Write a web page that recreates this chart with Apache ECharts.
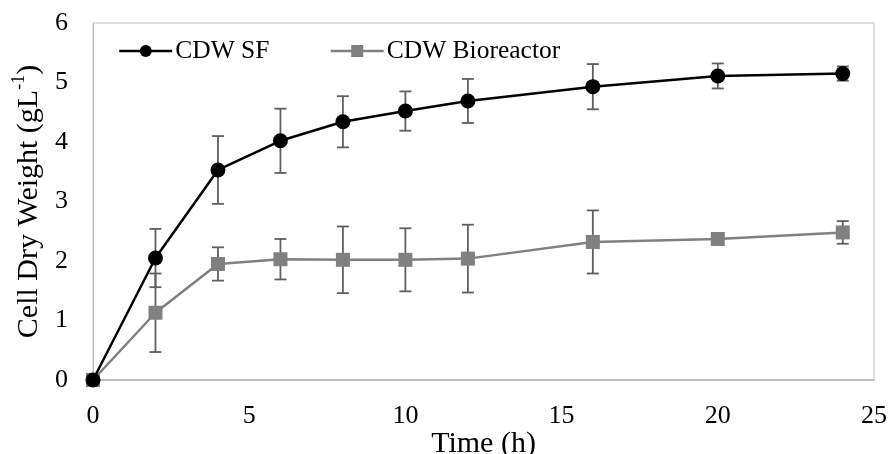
<!DOCTYPE html>
<html>
<head>
<meta charset="utf-8">
<script src="https://cdn.jsdelivr.net/npm/echarts@6/dist/echarts.min.js"></script>
<style>
  html, body { margin: 0; padding: 0; background: #fff; }
  #chart { width: 890px; height: 454px; }
</style>
</head>
<body>
<div id="chart"></div>
<script>
// time points (h)
const times = [0, 2, 4, 6, 8, 10, 12, 16, 20, 24];
// shake flask
const sfMean = [0, 2.05, 3.53, 4.02, 4.34, 4.52, 4.69, 4.93, 5.11, 5.15];
const sfErr = [0, 0.49, 0.57, 0.54, 0.43, 0.33, 0.37, 0.38, 0.21, 0.12];
// bioreactor
const bioMean = [0, 1.13, 1.95, 2.03, 2.02, 2.02, 2.04, 2.32, 2.37, 2.48];
const bioErr = [0, 0.66, 0.28, 0.34, 0.56, 0.53, 0.57, 0.53, 0.03, 0.19];
const xTicks = [0, 5, 10, 15, 20, 25];
const yTicks = [0, 1, 2, 3, 4, 5, 6];

const font = "'Liberation Serif', 'Times New Roman', serif";

function errData(mean, err) {
  return times.map((t, i) => [t, mean[i] - err[i], mean[i] + err[i]]);
}

function errSeries(mean, err) {
  return {
    type: 'custom',
    silent: true,
    z: 1,
    data: errData(mean, err),
    renderItem: function (params, api) {
      const lo = api.coord([api.value(0), api.value(1)]);
      const hi = api.coord([api.value(0), api.value(2)]);
      const w = 6;
      const st = { stroke: '#5f5f5f', lineWidth: 1.8 };
      return {
        type: 'group',
        children: [
          { type: 'line', shape: { x1: lo[0], y1: lo[1], x2: hi[0], y2: hi[1] }, style: st },
          { type: 'line', shape: { x1: lo[0] - w, y1: lo[1], x2: lo[0] + w, y2: lo[1] }, style: st },
          { type: 'line', shape: { x1: hi[0] - w, y1: hi[1], x2: hi[0] + w, y2: hi[1] }, style: st }
        ]
      };
    }
  };
}

let chart = echarts.init(document.getElementById('chart'));
chart.setOption({
  animation: false,
  grid: {
    left: 93, right: 16, top: 23, bottom: 74,
    outerBoundsMode: 'none',
    containLabel: false,
    show: true, borderColor: '#bfbfbf', borderWidth: 1
  },
  legend: {
    left: 113, top: 33,
    itemWidth: 53, itemHeight: 15, itemGap: 60,
    lineStyle: { width: 2.5 },
    textStyle: { fontFamily: font, fontSize: 25.5, color: '#000', padding: [0, 0, 0, -2] },
    data: ['CDW SF', 'CDW Bioreactor']
  },
  xAxis: {
    type: 'value',
    min: xTicks[0], max: xTicks[xTicks.length - 1], interval: 5,
    name: 'Time (h)',
    nameLocation: 'middle',
    nameGap: 47,
    nameMoveOverlap: false,
    nameTextStyle: { fontFamily: font, fontSize: 30, color: '#000', lineHeight: 34 },
    axisLine: { show: true, lineStyle: { color: '#bfbfbf', width: 2 } },
    axisTick: { show: false },
    splitLine: { show: false },
    axisLabel: { fontFamily: font, fontSize: 26, color: '#000', margin: 23 }
  },
  yAxis: {
    type: 'value',
    min: yTicks[0], max: yTicks[yTicks.length - 1], interval: 1,
    name: '{n|Cell Dry Weight (gL}{s|-1}{n|)}',
    nameLocation: 'middle',
    nameGap: 49,
    nameMoveOverlap: false,
    nameTextStyle: {
      rich: {
        n: { fontFamily: font, fontSize: 30, color: '#000', lineHeight: 34, verticalAlign: 'bottom' },
        s: { fontFamily: font, fontSize: 18, color: '#000', lineHeight: 34, verticalAlign: 'top' }
      }
    },
    axisLine: { show: true, lineStyle: { color: '#bfbfbf', width: 1 } },
    axisTick: { show: false },
    splitLine: { show: false },
    axisLabel: { fontFamily: font, fontSize: 26, color: '#000', margin: 25 }
  },
  series: [
    errSeries(sfMean, sfErr),
    errSeries(bioMean, bioErr),
    {
      name: 'CDW Bioreactor',
      type: 'line',
      z: 3,
      data: times.map((t, i) => [t, bioMean[i]]),
      symbol: 'rect',
      symbolSize: 14,
      itemStyle: { color: '#808080' },
      lineStyle: { color: '#808080', width: 2.5 }
    },
    {
      name: 'CDW SF',
      type: 'line',
      z: 4,
      data: times.map((t, i) => [t, sfMean[i]]),
      symbol: 'circle',
      symbolSize: 15,
      itemStyle: { color: '#000' },
      lineStyle: { color: '#000', width: 2.5 }
    }
  ]
});
window.addEventListener('resize', function () {
  chart.resize();
});
</script>
</body>
</html>
